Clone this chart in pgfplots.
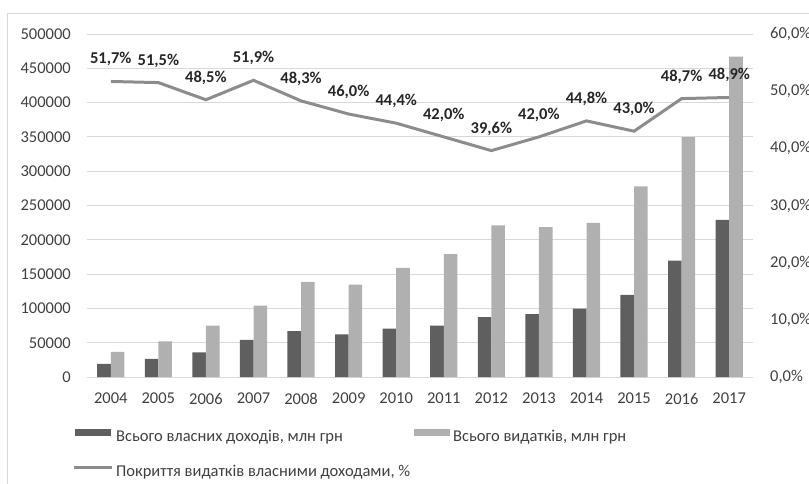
\documentclass[border=0pt]{standalone}
\usepackage{fontspec}
\setmainfont{Carlito}
\usepackage{pgfplots}
\pgfplotsset{compat=1.18}
\usepackage{pgfplotstable}

\definecolor{darkbar}{HTML}{5F5F5F}
\definecolor{lightbar}{HTML}{B0B0B0}
\definecolor{linegray}{HTML}{8C8C8C}
\definecolor{gridgray}{HTML}{D9D9D9}
\definecolor{txt}{HTML}{404040}
\definecolor{lbl}{HTML}{262626}

\pgfplotstableread{
x year own exp pct
0 2004 19000 36800 51.7
1 2005 26500 52000 51.5
2 2006 36000 74800 48.5
3 2007 54000 104000 51.9
4 2008 66700 138500 48.3
5 2009 62000 134500 46.0
6 2010 70700 159000 44.4
7 2011 75000 179000 42.0
8 2012 87300 221000 39.6
9 2013 91500 218500 42.0
10 2014 99500 224800 44.8
11 2015 119700 277800 43.0
12 2016 169500 349500 48.7
13 2017 229000 467000 48.9
}\data

\newcommand{\fs}{\fontsize{16.5}{20}\selectfont}

\begin{document}
\begin{tikzpicture}[font=\fs]
\begin{scope}
\clip (0pt,0pt) rectangle (809pt,-484pt);
\draw[gridgray, line width=1pt] (7pt,-500pt) -- (7pt,-14pt) -- (820pt,-14pt);

\begin{axis}[
  at={(87pt,-377pt)}, anchor=south west,
  scale only axis, width=666pt, height=343pt,
  xmin=-0.5, xmax=13.5, ymin=0, ymax=500000,
  xtick={0,...,13},
  xticklabels={2004,2005,2006,2007,2008,2009,2010,2011,2012,2013,2014,2015,2016,2017},
  ytick={0,50000,...,500000},
  scaled y ticks=false,
  yticklabel={\pgfmathprintnumber[fixed,1000 sep={},assume math mode=true]{\tick}},
  ymajorgrids, grid style={gridgray, line width=1pt},
  axis line style={draw=none}, major tick length=0pt,
  ybar=0pt, bar width=13.6pt,
  tick label style={font=\fs, text=txt},
  yticklabel style={anchor=east, inner sep=0pt, xshift=-16pt},
  xticklabel style={anchor=north, inner sep=0pt, yshift=-16pt},
  legend columns=2,
  legend cell align=left,
  legend style={at={(axis description cs:-0.0225,-0.150)}, anchor=north west,
    draw=none, fill=none, inner sep=0pt, row sep=19pt,
    nodes={inner sep=0pt, text=txt, font=\fs, text height=12pt, text depth=4pt},
    /tikz/every odd column/.append style={column sep=3pt},
    /tikz/every even column/.append style={column sep=4pt}},
]
\addplot[fill=darkbar, draw=none,
  legend image code/.code={\fill[darkbar] (1pt,1.5pt) rectangle (37pt,8.5pt);}]
  table[x=x, y=own]{\data};
\addlegendentry{Всього власних доходів, млн грн}
\addplot[fill=lightbar, draw=none,
  legend image code/.code={\fill[lightbar] (0pt,1.5pt) rectangle (36pt,8.5pt);}]
  table[x=x, y=exp]{\data};
\addlegendentry{Всього видатків, млн грн}
\addlegendimage{legend image code/.code={\draw[linegray, line width=3pt] (0pt,5pt) -- (38pt,5pt);}}
\addlegendentry{Покриття видатків власними доходами, \%}
\end{axis}

\begin{axis}[
  at={(87pt,-377pt)}, anchor=south west,
  scale only axis, width=666pt, height=343pt,
  xmin=-0.5, xmax=13.5, ymin=0, ymax=60,
  axis y line*=right, axis x line=none,
  axis line style={draw=none}, major tick length=0pt,
  ytick={0,10,...,60},
  yticklabel={\pgfmathprintnumber[fixed,fixed zerofill,precision=1,use comma,assume math mode=true]{\tick}\%},
  yticklabel style={anchor=west, inner sep=0pt, xshift=17pt, font=\fs, text=txt},
]
\addplot[linegray, line width=3pt, mark=none,
  point meta=y,
  nodes near coords={\pgfmathprintnumber[fixed,fixed zerofill,precision=1,use comma,assume math mode=true]{\pgfplotspointmeta}\%},
  every node near coord/.style={anchor=base, inner sep=0pt, yshift=17.5pt, font=\fs\bfseries, text=lbl}]
  table[x=x, y=pct]{\data};
\end{axis}
\end{scope}
\pgfresetboundingbox
\path[use as bounding box] (0pt,0pt) rectangle (809pt,-484pt);
\end{tikzpicture}
\end{document}
